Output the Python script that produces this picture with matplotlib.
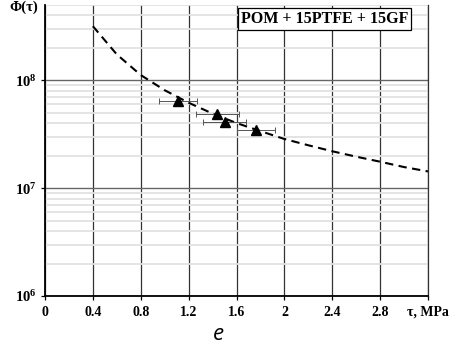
import numpy as np
import matplotlib
matplotlib.use("Agg")
import matplotlib.pyplot as plt
from matplotlib.ticker import FixedLocator

plt.rcParams["font.family"] = ["Liberation Serif", "DejaVu Serif"]
plt.rcParams["mathtext.fontset"] = "custom"
plt.rcParams["mathtext.rm"] = "Liberation Serif"
plt.rcParams["mathtext.bf"] = "Liberation Serif:bold"

# fitted curve
curve_tau = [0.4, 0.6, 0.8, 1.0, 1.2, 1.4, 1.6, 1.8, 2.0, 2.2, 2.4, 2.6, 2.8, 3.0, 3.2]
curve_phi = [3.18e8, 1.74e8, 1.12e8, 8.1e7, 6.2e7, 4.92e7, 4.02e7, 3.38e7,
             2.86e7, 2.5e7, 2.2e7, 1.96e7, 1.76e7, 1.57e7, 1.43e7]

# measured points (triangles) with horizontal error
pts_tau = [1.11, 1.44, 1.50, 1.76]
pts_phi = [6.5e7, 4.92e7, 4.1e7, 3.5e7]
pts_err = [0.16, 0.18, 0.18, 0.16]

xticks = [0, 0.4, 0.8, 1.2, 1.6, 2.0, 2.4, 2.8, 3.2]
xlabels = ["0", "0.4", "0.8", "1.2", "1.6", "2", "2.4", "2.8", "τ, MPa"]
yticks = [1e6, 1e7, 1e8]
ylabels = [r"$\mathbf{10^{6}}$", r"$\mathbf{10^{7}}$", r"$\mathbf{10^{8}}$"]
legend_text = "POM + 15PTFE + 15GF"

fig = plt.figure(figsize=(4.58, 3.49), dpi=100)
ax = fig.add_axes([45/458, 1 - 296/349, 383/458, 291/349])

ax.set_yscale("log")
ax.set_xlim(0, 3.2)
ax.set_ylim(1e6, 5e8)

# grid
minor = [m * 10.0**d for d in (6, 7, 8) for m in range(2, 10)]
ax.yaxis.set_minor_locator(FixedLocator(minor))
ax.grid(which="minor", axis="y", color="#e2e2e2", linewidth=1.3, zorder=0)
ax.grid(which="major", axis="y", color="#666666", linewidth=1.0, zorder=0)
ax.grid(which="major", axis="x", color="#333333", linewidth=0.9, zorder=0)

ax.plot(curve_tau, curve_phi, color="black", linestyle=(0, (4, 2.6)),
        linewidth=1.5, zorder=3)

ax.errorbar(pts_tau, pts_phi, xerr=pts_err, fmt="none", ecolor="#555555",
            elinewidth=0.7, capsize=2, capthick=0.7, zorder=4)
ax.plot(pts_tau, pts_phi, linestyle="none", marker="^", color="black",
        markersize=7.5, zorder=5)

ax.set_xticks(xticks)
ax.set_xticklabels(xlabels, fontsize=10, fontweight="bold")
ax.set_yticks(yticks)
ax.set_yticklabels(ylabels, fontsize=10.5)
ax.tick_params(axis="x", length=3, width=0.9, pad=4)
ax.tick_params(axis="y", which="major", length=3, width=0.9, pad=3)
ax.tick_params(axis="y", which="minor", length=0)

ax.spines["top"].set_visible(False)
ax.spines["right"].set_color("#333333")
ax.spines["right"].set_linewidth(0.9)
ax.spines["left"].set_linewidth(1.3)
ax.spines["bottom"].set_linewidth(1.3)

ax.text(0.73, 0.952, legend_text, transform=ax.transAxes, ha="center",
        va="center", fontsize=11.5, fontweight="bold",
        bbox=dict(boxstyle="square,pad=0.2", facecolor="white",
                  edgecolor="black", linewidth=0.9), zorder=6)

fig.text(9/458, 1 - 7/349, "Φ(τ)", ha="left", va="center",
         fontsize=10.5, fontweight="bold")
fig.text(218/458, 1 - 335/349, "e", ha="center", va="center",
         fontsize=16, style="italic", family=["Open Sans", "DejaVu Sans"])

fig.savefig("out.png", dpi=100)
